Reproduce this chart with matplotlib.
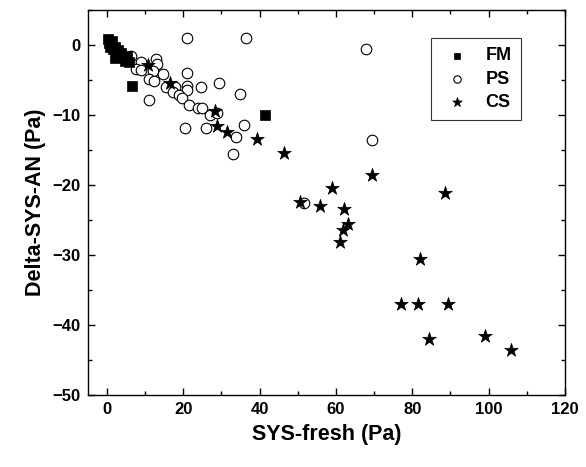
import matplotlib
matplotlib.use("Agg")
from matplotlib import pyplot as plt
from matplotlib.ticker import MultipleLocator

plt.rcParams['font.family'] = ['Liberation Sans', 'DejaVu Sans']
plt.rcParams['font.weight'] = 'bold'

# FM (filled squares)
fm_x = [0.3, 0.6, 0.9, 1.3, 1.6, 2.0, 2.4, 2.9, 3.3, 3.8, 4.2, 4.7, 5.3, 5.7, 2.0, 6.5, 41.4]
fm_y = [0.8, 0.2, -0.3, 0.5, -0.6, -0.3, -1.0, -0.7, -1.5, -1.1, -1.8, -2.3, -1.6, -2.5, -1.9, -5.9, -10.0]

# PS (open circles)
ps_x = [20.9, 36.4, 67.9, 6.3, 8.9, 12.9, 13.0, 7.6, 8.9, 12.0, 14.6, 11.1, 12.3, 15.5,
        17.9, 20.9, 20.9, 20.9, 24.6, 29.4, 34.9, 17.2, 18.8, 19.6, 21.5, 23.8, 25.0,
        27.0, 28.9, 20.4, 25.9, 35.9, 33.9, 33.1, 10.9, 51.6, 69.5]
ps_y = [0.95, 0.95, -0.6, -1.6, -2.4, -2.0, -2.8, -3.5, -3.6, -3.7, -4.1, -4.9, -5.1, -6.0,
        -6.0, -4.0, -5.9, -6.4, -6.0, -5.5, -7.0, -6.7, -7.2, -7.6, -8.6, -9.0, -9.0,
        -10.0, -9.8, -11.9, -11.9, -11.4, -13.1, -15.6, -7.9, -22.6, -13.6]

# CS (stars)
cs_x = [10.8, 16.6, 28.4, 28.8, 31.4, 39.4, 46.4, 50.5, 55.9, 58.9, 62.0, 63.1, 61.8,
        61.0, 69.5, 77.0, 81.4, 82.0, 84.5, 89.4, 88.5, 99.0, 105.9]
cs_y = [-2.9, -5.4, -9.5, -11.6, -12.4, -13.5, -15.5, -22.4, -23.0, -20.5, -23.5, -25.6,
        -26.4, -28.1, -18.6, -37.0, -37.0, -30.6, -42.0, -37.0, -21.1, -41.5, -43.6]

fig = plt.figure(figsize=(5.86, 4.67), dpi=100)
ax = fig.add_axes([0.150, 0.154, 0.814, 0.825])

ax.scatter(fm_x, fm_y, marker='s', s=50, c='black', edgecolors='black', linewidths=0.5, label='FM', zorder=3)
ax.scatter(ps_x, ps_y, marker='o', s=58, facecolors='white', edgecolors='black', linewidths=0.8, label='PS', zorder=2)
ax.scatter(cs_x, cs_y, marker='*', s=105, c='black', edgecolors='black', linewidths=0.5, label='CS', zorder=4)

ax.set_xlim(-5, 120)
ax.set_ylim(-50, 5)
ax.xaxis.set_major_locator(MultipleLocator(20))
ax.xaxis.set_minor_locator(MultipleLocator(10))
ax.yaxis.set_major_locator(MultipleLocator(10))
ax.yaxis.set_minor_locator(MultipleLocator(5))
ax.tick_params(which='both', direction='in', top=True, right=True, width=1)
ax.tick_params(which='major', length=5, labelsize=12, pad=5)
ax.tick_params(which='minor', length=3)
for lbl in ax.get_xticklabels() + ax.get_yticklabels():
    lbl.set_fontweight('bold')
for sp in ax.spines.values():
    sp.set_linewidth(1)

ax.set_xlabel('SYS-fresh (Pa)', fontsize=15.5, fontweight='bold', labelpad=5)
ax.set_ylabel('Delta-SYS-AN (Pa)', fontsize=15.5, fontweight='bold', labelpad=5)

leg = ax.legend(loc='upper right', bbox_to_anchor=(0.907, 0.926), fancybox=False,
                edgecolor='black', prop={'weight': 'bold', 'size': 13},
                handletextpad=0.7, borderpad=0.5, labelspacing=0.35, markerscale=0.7,
                handlelength=1.8, borderaxespad=0)
leg.get_frame().set_linewidth(0.8)

fig.savefig('out.png', dpi=100)
